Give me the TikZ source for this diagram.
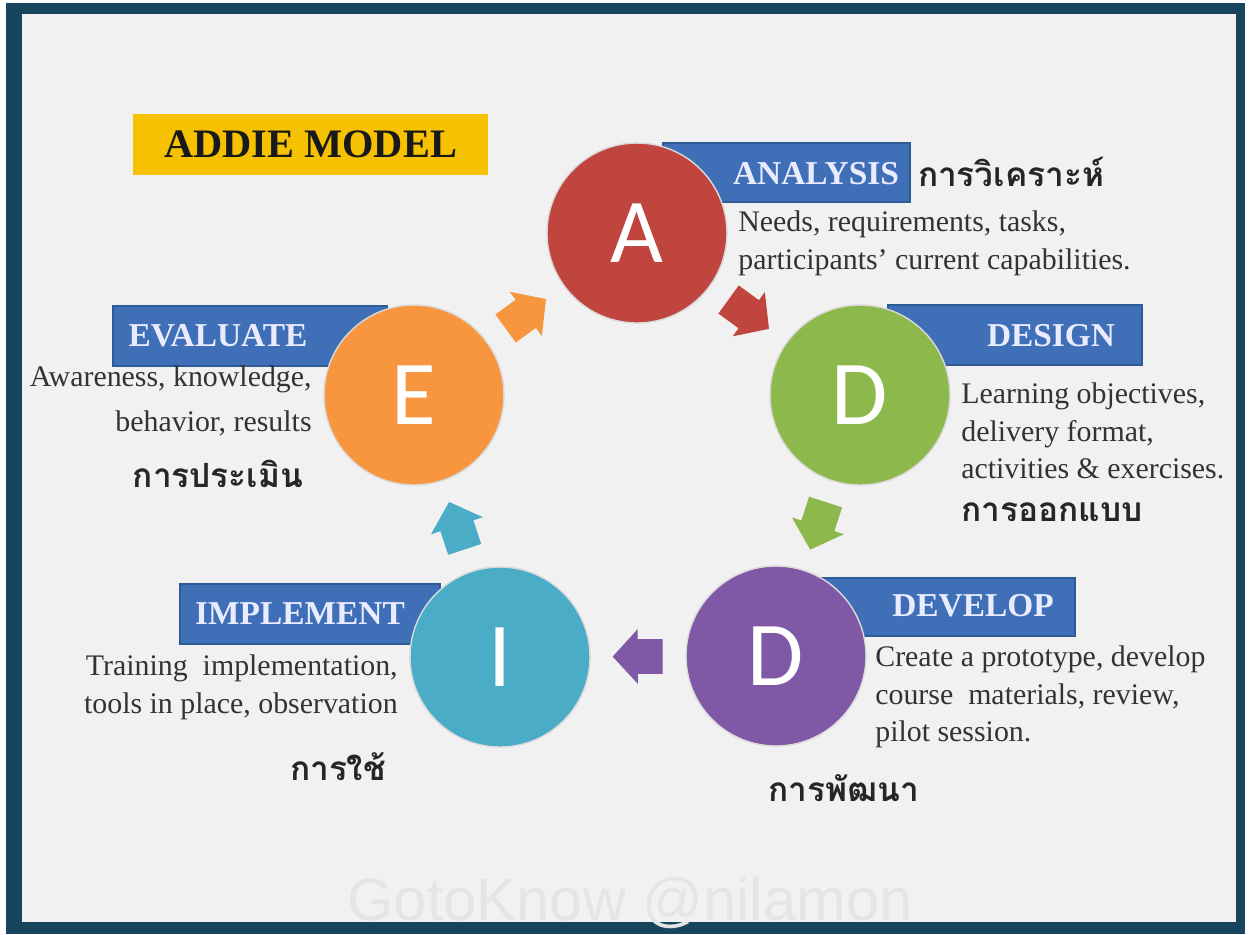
\documentclass[tikz,border=0pt]{standalone}
\usepackage{fontspec}
\setmainfont{Liberation Serif}
\newfontfamily\thaifont[Script=Thai]{Loma}
\newfontfamily\letterfont{Carlito}
\newfontfamily\markfont{Liberation Sans}
\usetikzlibrary{shapes.arrows,calc,positioning}
\definecolor{frameblue}{HTML}{17455E}
\definecolor{paper}{HTML}{F1F1F1}
\definecolor{addie}{HTML}{F5C100}
\definecolor{barblue}{HTML}{3F70B7}
\definecolor{barline}{HTML}{2E5B95}
\definecolor{aRed}{HTML}{C0453F}
\definecolor{dGreen}{HTML}{8DB84B}
\definecolor{dPurple}{HTML}{7F58A6}
\definecolor{iTeal}{HTML}{4AACC7}
\definecolor{eOrange}{HTML}{F7963F}
\definecolor{notegray}{HTML}{333333}
\tikzset{
  phase/.style={circle, minimum size=3.6cm, inner sep=0pt, draw=white!85!black, line width=0.8pt, text=white, font=\letterfont\fontsize{52}{52}\selectfont},
  bar/.style={draw=barline, fill=barblue, line width=0.8pt, inner sep=0pt},
  bartitle/.style={text=white!92!blue, font=\bfseries\fontsize{19}{22}\selectfont, inner sep=0pt},
  note/.style={text=notegray, font=\fontsize{17}{21.5}\selectfont, inner sep=0pt},
  thai/.style={text=black!85, font=\thaifont\bfseries\fontsize{19}{22}\selectfont, inner sep=0pt},
  flowarrow/.style={single arrow, draw=none, inner xsep=0pt, inner ysep=0.34cm, minimum height=1cm, minimum width=1.08cm, single arrow head extend=0.2cm, single arrow tip angle=95, anchor=tail}
}
\begin{document}
\begin{tikzpicture}[x=0.02cm,y=-0.02cm]
%canvas and frame
\useasboundingbox (0,0) rectangle (1250,934);
\fill[white] (0,0) rectangle (1250,934);
\fill[frameblue] (6,3) rectangle (1245,934);
\fill[paper] (22,14) rectangle (1236,922);
%watermark
\node[text=black!10, font=\markfont\fontsize{34}{34}\selectfont, inner sep=0pt, anchor=base] (mark) at (630,920) {GotoKnow @nilamon};
%title box
\node[fill=addie, minimum width=7.1cm, minimum height=1.22cm, inner sep=0pt, text=black!90, font=\bfseries\fontsize{23}{26}\selectfont] (addie) at (310.5,144) {ADDIE MODEL};
%bars behind the circles
\node[bar, minimum width=4.94cm, minimum height=1.18cm] (anaBar) at (786.5,172.5) {};
\node[bar, minimum width=5.08cm, minimum height=1.2cm] (desBar) at (1015,335) {};
\node[bar, minimum width=5.06cm, minimum height=1.16cm] (devBar) at (948.5,607) {};
\node[bar, minimum width=5.2cm, minimum height=1.2cm] (impBar) at (310,614) {};
\node[bar, minimum width=5.48cm, minimum height=1.2cm] (evaBar) at (250,336) {};
%phases
\node[phase, fill=aRed] (A) at (637,233) {A};
\node[phase, fill=dGreen] (Ds) at (860,395) {D};
\node[phase, fill=dPurple] (Dv) at (776,656) {D};
\node[phase, fill=iTeal] (I) at (500,657) {I};
\node[phase, fill=eOrange] (E) at (414,395) {E};
%cycle arrows, half way between phases
\path let \p1=($(A)-(E)$), \n1={atan2(\y1,\x1)} in node[flowarrow, fill=eOrange, rotate=\n1] (eaArrow) at ($($(E)!0.5!(A)$)!0.5cm!(E)$) {};
\path let \p1=($(Ds)-(A)$), \n1={atan2(\y1,\x1)} in node[flowarrow, fill=aRed, rotate=\n1] (adArrow) at ($($(A)!0.5!(Ds)$)!0.5cm!(A)$) {};
\path let \p1=($(Dv)-(Ds)$), \n1={atan2(\y1,\x1)} in node[flowarrow, fill=dGreen, rotate=\n1] (ddArrow) at ($($(Ds)!0.5!(Dv)$)!0.5cm!(Ds)$) {};
\path let \p1=($(I)-(Dv)$), \n1={atan2(\y1,\x1)} in node[flowarrow, fill=dPurple, rotate=\n1] (diArrow) at ($($(Dv)!0.5!(I)$)!0.5cm!(Dv)$) {};
\path let \p1=($(E)-(I)$), \n1={atan2(\y1,\x1)} in node[flowarrow, fill=iTeal, rotate=\n1] (ieArrow) at ($($(I)!0.5!(E)$)!0.5cm!(I)$) {};
%bar titles
\node[bartitle] (anaTitle) at (816,174) {ANALYSIS};
\node[bartitle] (desTitle) at (1051,336) {DESIGN};
\node[bartitle] (devTitle) at (973,606) {DEVELOP};
\node[bartitle] (impTitle) at (300,614) {IMPLEMENT};
\node[bartitle] (evaTitle) at (218,336) {EVALUATE};
%notes
\node[note, anchor=west, align=left] (anaNote) at (738,243) {Needs, requirements, tasks,\\participants' current capabilities.};
\node[note, anchor=west, align=left] (desNote) at (961,431) {Learning objectives,\\delivery format,\\activities \& exercises.};
\node[note, anchor=west, align=left] (devNote) at (875,697) {Create a prototype, develop\\course\ \ materials, review,\\pilot session.};
\node[note, anchor=east, align=right] (impNote) at (398,687) {Training\ \ implementation,\\tools in place, observation};
\node[note, anchor=east, align=right, font=\fontsize{17}{26}\selectfont] (evaNote) at (312,401) {Awareness, knowledge,\\behavior, results};
%thai names
\node[thai] (anaThai) at (1011,172) {การวิเคราะห์};
\node[thai] (desThai) at (1052,512) {การออกแบบ};
\node[thai] (devThai) at (844,788) {การพัฒนา};
\node[thai] (impThai) at (338,767) {การใช้};
\node[thai] (evaThai) at (218,474) {การประเมิน};
\end{tikzpicture}
\end{document}
